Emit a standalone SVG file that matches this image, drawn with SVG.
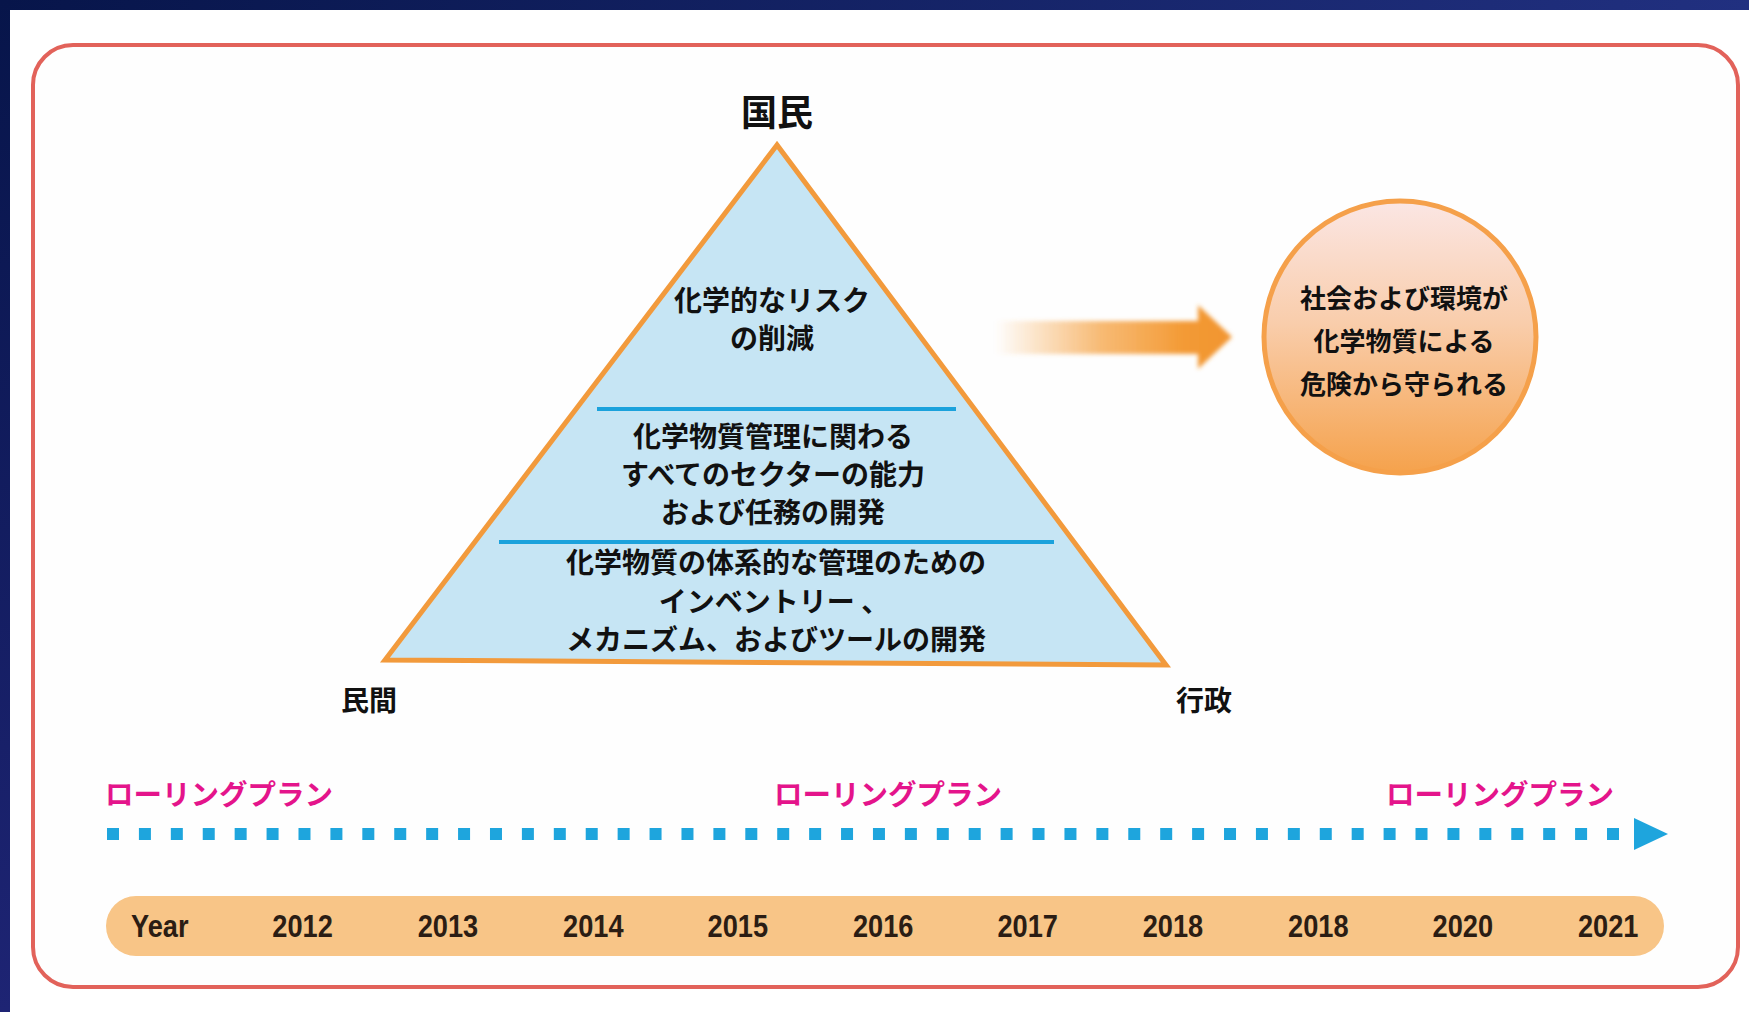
<svg xmlns="http://www.w3.org/2000/svg" width="1749" height="1012" viewBox="0 0 1749 1012">
<defs>
<linearGradient id="topBand" x1="0" y1="0" x2="1" y2="0">
<stop offset="0" stop-color="#07154a"/><stop offset="1" stop-color="#213080"/>
</linearGradient>
<linearGradient id="leftBand" x1="0" y1="0" x2="0" y2="1">
<stop offset="0" stop-color="#07154a"/><stop offset="1" stop-color="#1e2474"/>
</linearGradient>
<linearGradient id="arrowGrad" gradientUnits="userSpaceOnUse" x1="995" y1="0" x2="1232" y2="0">
<stop offset="0" stop-color="#f5a345" stop-opacity="0"/>
<stop offset="0.45" stop-color="#f5a345" stop-opacity="0.75"/>
<stop offset="0.8" stop-color="#f39a35" stop-opacity="1"/>
<stop offset="1" stop-color="#f29530" stop-opacity="1"/>
</linearGradient>
<linearGradient id="circleGrad" x1="0" y1="0" x2="0" y2="1">
<stop offset="0" stop-color="#fbe6e4"/>
<stop offset="0.45" stop-color="#f9cdab"/>
<stop offset="1" stop-color="#f5a24c"/>
</linearGradient>
<filter id="soft" x="-10%" y="-30%" width="120%" height="160%">
<feGaussianBlur stdDeviation="2"/>
</filter>
<style>
.jp{font-family:"Noto Sans CJK JP","Noto Sans CJK SC",sans-serif;font-weight:bold;fill:#111;text-anchor:middle;}
.tri{font-size:28px;}
.circ{font-size:26px;}
.side{font-size:28px;}
.roll{font-size:28.5px;fill:#e4148b;}
.yr{font-family:"Liberation Sans",Arial,sans-serif;font-weight:bold;font-size:32px;fill:#2b1d14;text-anchor:middle;}
.sep{stroke:#1ba2dc;stroke-width:4;}
</style>
</defs>

<rect x="0" y="0" width="1749" height="1012" fill="#ffffff"/>
<rect x="0" y="0" width="1749" height="10" fill="url(#topBand)"/>
<rect x="0" y="0" width="10" height="1012" fill="url(#leftBand)"/>

<g id="frame">
<rect x="33" y="45" width="1705" height="942" rx="40" ry="40" fill="#fefefe" stroke="#e2625a" stroke-width="4"/>
</g>

<g id="title">
<text class="jp" x="777" y="126" font-size="36">国民</text>
</g>

<g id="pyramid">
<polygon points="777,145 385,660 1166,665" fill="#c6e5f4" stroke="#f29a3c" stroke-width="5" stroke-linejoin="miter"/>
<line class="sep" x1="597" y1="409" x2="956" y2="409"/>
<line class="sep" x1="499" y1="542" x2="1054" y2="542"/>
<text class="jp tri" x="772" y="311">化学的なリスク</text>
<text class="jp tri" x="772" y="349">の削減</text>
<text class="jp tri" x="773" y="447">化学物質管理に関わる</text>
<text class="jp tri" x="773" y="485">すべてのセクターの能力</text>
<text class="jp tri" x="773" y="523">および任務の開発</text>
<text class="jp tri" x="776" y="573">化学物質の体系的な管理のための</text>
<text class="jp tri" x="774" y="612">インベントリー 、</text>
<text class="jp tri" x="776" y="650">メカニズム、およびツールの開発</text>
</g>

<g id="label-private">
<text class="jp side" x="369" y="711">民間</text>
</g>
<g id="label-gov">
<text class="jp side" x="1204" y="711">行政</text>
</g>

<g id="outcome">
<circle cx="1400" cy="337" r="136" fill="url(#circleGrad)" stroke="#f5a04a" stroke-width="5"/>
<text class="jp circ" x="1404" y="308">社会および環境が</text>
<text class="jp circ" x="1404" y="351">化学物質による</text>
<text class="jp circ" x="1404" y="394">危険から守られる</text>
</g>

<g id="connectors">
<path d="M995,321 L1198,321 L1198,305 L1232,337 L1198,369 L1198,354 L995,354 Z" fill="url(#arrowGrad)" filter="url(#soft)"/>
<line x1="107" y1="834" x2="1619" y2="834" stroke="#1ea5dd" stroke-width="12" stroke-dasharray="12 19.915"/>
<polygon points="1634,818 1668,834 1634,850" fill="#1ea5dd"/>
</g>

<g id="rolling-plans">
<text class="jp roll" x="219" y="805">ローリングプラン</text>
<text class="jp roll" x="888" y="805">ローリングプラン</text>
<text class="jp roll" x="1500" y="805">ローリングプラン</text>
</g>

<g id="timeline">
<rect x="106" y="896" width="1558" height="60" rx="30" ry="30" fill="#f8c587"/>
<g transform="scale(0.85 1)">
<text class="yr" x="188" y="937">Year</text>
<text class="yr" x="356" y="937">2012</text>
<text class="yr" x="527" y="937">2013</text>
<text class="yr" x="698" y="937">2014</text>
<text class="yr" x="868" y="937">2015</text>
<text class="yr" x="1039" y="937">2016</text>
<text class="yr" x="1209" y="937">2017</text>
<text class="yr" x="1380" y="937">2018</text>
<text class="yr" x="1551" y="937">2018</text>
<text class="yr" x="1721" y="937">2020</text>
<text class="yr" x="1892" y="937">2021</text>
</g>
</g>
</svg>
